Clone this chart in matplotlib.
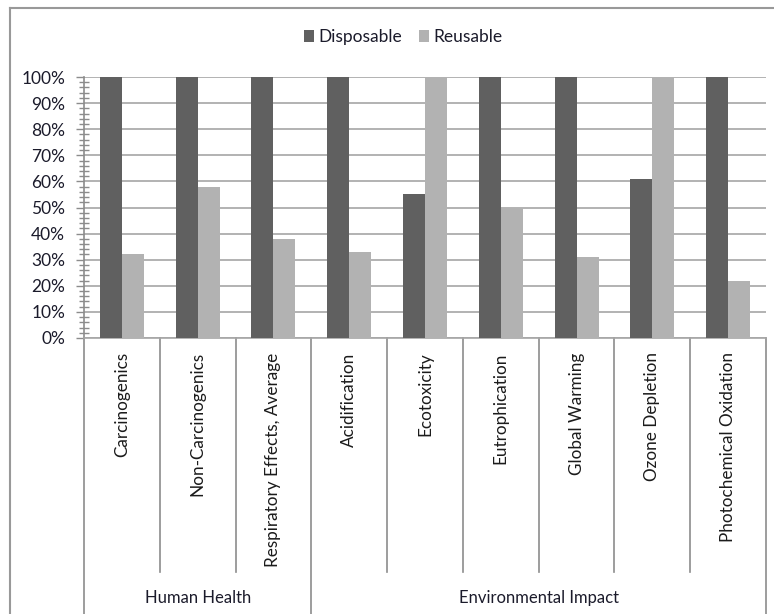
import matplotlib
matplotlib.use("Agg")
import matplotlib.pyplot as plt
from matplotlib.lines import Line2D
from matplotlib.ticker import MultipleLocator, PercentFormatter
import numpy as np

plt.rcParams['font.family'] = ['Lato', 'DejaVu Sans']

# impact categories and the group each belongs to
categories = ["Carcinogenics", "Non-Carcinogenics", "Respiratory Effects, Average",
              "Acidification", "Ecotoxicity", "Eutrophication", "Global Warming",
              "Ozone Depletion", "Photochemical Oxidation"]
groups = ["Human Health", "Environmental Impact"]
group_sizes = [3, 6]

# relative impact, % of the worse option
disposable = [100, 100, 100, 100, 55, 100, 100, 61, 100]
reusable = [32, 58, 38, 33, 100, 50, 31, 100, 22]

W, H = 774, 614
fig = plt.figure(figsize=(W / 100, H / 100), dpi=100)
ax = fig.add_axes([84 / W, 276 / H, 682 / W, 261 / H])

x = np.arange(len(categories))
bw = 0.29
ax.bar(x - bw / 2, disposable, bw, color="#606060", label="Disposable", zorder=3)
ax.bar(x + bw / 2, reusable, bw, color="#b2b2b2", label="Reusable", zorder=3)

ax.set_xlim(-0.5, len(categories) - 0.5)
ax.set_ylim(0, 100)
ax.yaxis.set_major_locator(MultipleLocator(10))
ax.yaxis.set_minor_locator(MultipleLocator(2))
ax.yaxis.set_major_formatter(PercentFormatter(decimals=0))
ax.tick_params(axis="y", which="major", length=6, width=1, color="#8c8c8c",
               labelsize=12.5, labelcolor="#1b1b2b", pad=7.5)
ax.tick_params(axis="y", which="minor", length=6.5, width=1, color="#8c8c8c",
               direction="inout")
ax.set_xticks([])
ax.grid(axis="y", color="#a6a6a6", linewidth=1.2, zorder=0)
for s in ["top", "right"]:
    ax.spines[s].set_visible(False)
ax.spines["left"].set_color("#8c8c8c")
ax.spines["bottom"].set_color("#a6a6a6")
ax.spines["left"].set_linewidth(1.2)
ax.spines["bottom"].set_linewidth(1.2)

# category separators below the axis
trans = ax.get_xaxis_transform()
bounds = np.cumsum([0] + group_sizes) - 0.5
for b in np.arange(-0.5, len(categories)):
    low = -1.06 if b in bounds else -0.897
    ax.add_line(Line2D([b, b], [0, low], transform=trans, color="#8c8c8c",
                       linewidth=1.2, clip_on=False))

for i, name in enumerate(categories):
    ax.text(i, -0.055, name, transform=trans, rotation=90, ha="center", va="top",
            fontsize=12.3, color="#1b1b1b")

for g, name in enumerate(groups):
    mid = (bounds[g] + bounds[g + 1]) / 2
    ax.text(mid, -0.995, name, transform=trans, ha="center", va="center",
            fontsize=12, color="#1b1b2b")

ax.legend(loc="center", bbox_to_anchor=(403 / W, 1 - 37 / H),
          bbox_transform=fig.transFigure, ncol=2, frameon=False, fontsize=12.5,
          handlelength=0.6, handleheight=0.75, handletextpad=0.2,
          columnspacing=1.0, labelcolor="#1b1b2b")

# outer chart border
fig.add_artist(Line2D([10 / W, 10 / W], [0, 1 - 8 / H], transform=fig.transFigure,
                      color="#999999", linewidth=1.5))
fig.add_artist(Line2D([10 / W, 1], [1 - 8 / H, 1 - 8 / H], transform=fig.transFigure,
                      color="#999999", linewidth=1.5))

fig.savefig("out.png", dpi=100, facecolor="white")
